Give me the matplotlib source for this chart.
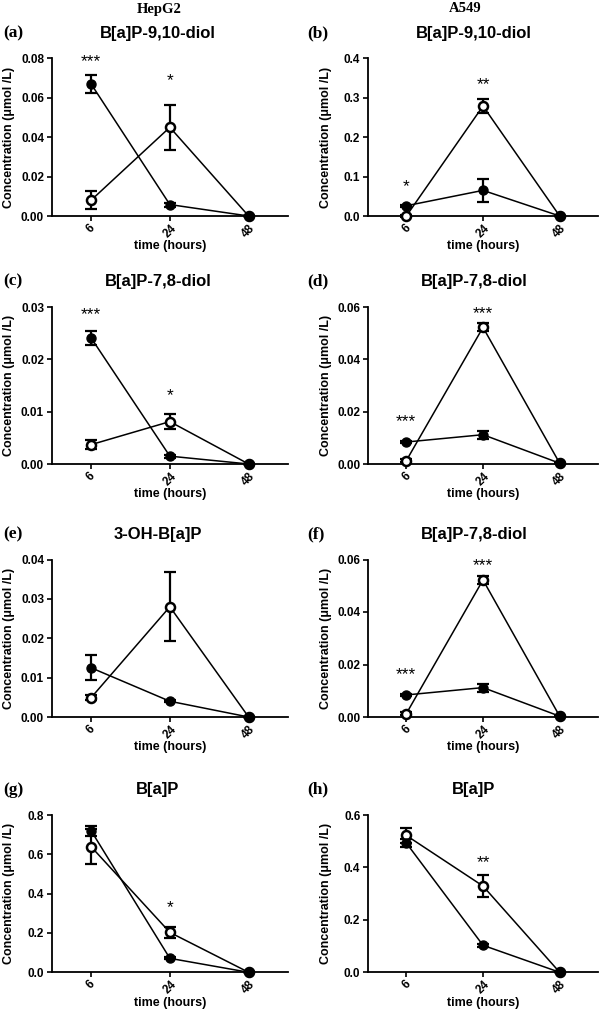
import matplotlib
matplotlib.use("Agg")
import matplotlib.pyplot as plt
import numpy as np

# time points (categorical x axis)
time_labels = ["6", "24", "48"]

# (a) HepG2 B[a]P-9,10-diol
a_filled = [0.067, 0.0058, 0.0]
a_filled_err = [0.0045, 0.001, 0.0]
a_open = [0.008, 0.045, 0.0]
a_open_err = [0.0045, 0.0113, 0.0]
a_stars = [("***", 0, 0.081), ("*", 1, 0.0715)]

# (b) A549 B[a]P-9,10-diol
b_filled = [0.026, 0.065, 0.0]
b_filled_err = [0.003, 0.029, 0.0]
b_open = [0.0, 0.279, 0.0]
b_open_err = [0.002, 0.017, 0.0]
b_stars = [("*", 0, 0.089), ("**", 1, 0.347)]

# (c) HepG2 B[a]P-7,8-diol
c_filled = [0.0241, 0.0015, 0.0]
c_filled_err = [0.0013, 0.0003, 0.0]
c_open = [0.0037, 0.0081, 0.0]
c_open_err = [0.0008, 0.0015, 0.0]
c_stars = [("***", 0, 0.0295), ("*", 1, 0.0141)]

# (d) A549 B[a]P-7,8-diol
d_filled = [0.0084, 0.0112, 0.0003]
d_filled_err = [0.0005, 0.0015, 0.0]
d_open = [0.0013, 0.0522, 0.0003]
d_open_err = [0.0005, 0.0015, 0.0]
d_stars = [("***", 0, 0.018), ("***", 1, 0.0596)]

# (e) HepG2 3-OH-B[a]P
e_filled = [0.0125, 0.004, 0.0]
e_filled_err = [0.0032, 0.0003, 0.0]
e_open = [0.0049, 0.028, 0.0]
e_open_err = [0.0006, 0.0087, 0.0]
e_stars = []

# (f) A549 B[a]P-7,8-diol (repeated panel)
f_filled = [0.0084, 0.0112, 0.0003]
f_filled_err = [0.0005, 0.0015, 0.0]
f_open = [0.0013, 0.0522, 0.0003]
f_open_err = [0.0005, 0.0015, 0.0]
f_stars = [("***", 0, 0.018), ("***", 1, 0.0596)]

# (g) HepG2 B[a]P
g_filled = [0.72, 0.071, 0.0]
g_filled_err = [0.025, 0.005, 0.0]
g_open = [0.639, 0.203, 0.0]
g_open_err = [0.09, 0.027, 0.0]
g_stars = [("*", 1, 0.354)]

# (h) A549 B[a]P
h_filled = [0.493, 0.103, 0.0]
h_filled_err = [0.015, 0.005, 0.0]
h_open = [0.522, 0.329, 0.0]
h_open_err = [0.028, 0.043, 0.0]
h_stars = [("**", 1, 0.438)]

panels = [
    ("(a)", "B[a]P-9,10-diol", a_filled, a_filled_err, a_open, a_open_err, a_stars, 0.08, 0.02, "{:.2f}"),
    ("(b)", "B[a]P-9,10-diol", b_filled, b_filled_err, b_open, b_open_err, b_stars, 0.4, 0.1, "{:.1f}"),
    ("(c)", "B[a]P-7,8-diol", c_filled, c_filled_err, c_open, c_open_err, c_stars, 0.03, 0.01, "{:.2f}"),
    ("(d)", "B[a]P-7,8-diol", d_filled, d_filled_err, d_open, d_open_err, d_stars, 0.06, 0.02, "{:.2f}"),
    ("(e)", "3-OH-B[a]P", e_filled, e_filled_err, e_open, e_open_err, e_stars, 0.04, 0.01, "{:.2f}"),
    ("(f)", "B[a]P-7,8-diol", f_filled, f_filled_err, f_open, f_open_err, f_stars, 0.06, 0.02, "{:.2f}"),
    ("(g)", "B[a]P", g_filled, g_filled_err, g_open, g_open_err, g_stars, 0.8, 0.2, "{:.1f}"),
    ("(h)", "B[a]P", h_filled, h_filled_err, h_open, h_open_err, h_stars, 0.6, 0.2, "{:.1f}"),
]

SANS = "Liberation Sans"
SERIF = "Liberation Serif"

W, H = 609, 1016
fig = plt.figure(figsize=(W / 100, H / 100), dpi=100)

# axes boxes in pixels: (left, right) and (top, bottom)
col_x = [(51.7, 288.0), (368.0, 598.0)]
row_y = [(58.3, 216.0), (307.0, 464.0), (559.5, 717.0), (815.0, 972.3)]

x = np.arange(len(time_labels))

for i, (tag, title, yf, ef, yo, eo, stars, ymax, ystep, fmt) in enumerate(panels):
    r, c = divmod(i, 2)
    x0, x1 = col_x[c]
    y0, y1 = row_y[r]
    ax = fig.add_axes([x0 / W, 1 - y1 / H, (x1 - x0) / W, (y1 - y0) / H])

    ax.errorbar(x, yo, yerr=eo, fmt="none", ecolor="black", elinewidth=1.6,
                capsize=4.5, capthick=1.6, zorder=2, clip_on=False)
    ax.errorbar(x, yf, yerr=ef, fmt="none", ecolor="black", elinewidth=1.6,
                capsize=4.5, capthick=1.6, zorder=2, clip_on=False)
    ax.plot(x, yo, "-o", color="black", lw=1.1, ms=6.5, mfc="white",
            mec="black", mew=1.8, zorder=3, clip_on=False)
    ax.plot(x, yf, "-o", color="black", lw=1.1, ms=6.5, mfc="black",
            mec="black", zorder=4, clip_on=False)

    for s, xi, ys in stars:
        ax.annotate(s, (xi, ys), xytext=(0, -7), textcoords="offset points",
                    ha="center", va="baseline", fontsize=12.5, family=SANS,
                    annotation_clip=False)

    ax.set_xlim(-0.5, 2.5)
    ax.set_ylim(0, ymax)
    ticks = np.arange(0, ymax + ystep / 2, ystep)
    ax.set_yticks(ticks)
    ax.set_yticklabels([fmt.format(t) for t in ticks], fontsize=8.5,
                       fontweight="bold", family=SANS)
    ax.set_xticks(x)
    ax.set_xticklabels(time_labels, rotation=45, fontsize=8.5,
                       fontweight="bold", family=SANS)

    for side in ("top", "right"):
        ax.spines[side].set_visible(False)
    for side in ("left", "bottom"):
        ax.spines[side].set_linewidth(1.3)
    ax.tick_params(width=1.2, length=3.5, pad=2)
    ax.tick_params(axis="x", pad=1)

    ax.set_xlabel("time (hours)", fontsize=9, fontweight="bold", family=SANS)
    ax.xaxis.set_label_coords(0.5, -0.155)
    ax.set_ylabel("Concentration (\u03bcmol /L)", fontsize=9,
                  fontweight="bold", family=SANS)
    ax.yaxis.set_label_coords(-0.155, 0.5)

    tx = 0.45 if c == 0 else 0.46
    ax.text(tx, 1.16, title, transform=ax.transAxes, ha="center",
            va="center", fontsize=12, fontweight="bold", family=SANS)
    lx = (3 if c == 0 else 307) - x0
    ax.text(lx / (x1 - x0), 1.16, tag, transform=ax.transAxes, ha="left",
            va="center", fontsize=12.5, fontweight="bold", family=SERIF)

fig.text(159 / W, 1 - 9 / H, "HepG2", ha="center", va="center",
         fontsize=10.5, fontweight="bold", family=SERIF)
fig.text(465 / W, 1 - 9 / H, "A549", ha="center", va="center",
         fontsize=10.5, fontweight="bold", family=SERIF)

fig.savefig("out.png", dpi=100)
